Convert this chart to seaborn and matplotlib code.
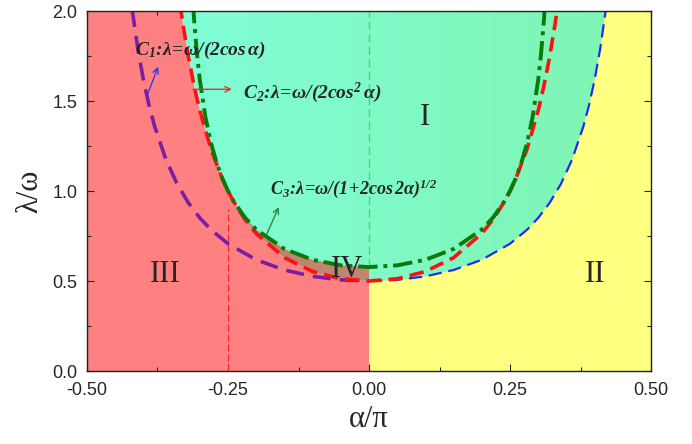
import numpy as np
import matplotlib
matplotlib.use('Agg')
import matplotlib.pyplot as plt
from matplotlib.patches import Polygon
from matplotlib.ticker import MultipleLocator
import seaborn as sns

# C1: lambda = omega/(2cos a)  (left half purple, right half blue)
c1_left_x = [-0.42, -0.41, -0.40, -0.39, -0.38, -0.36, -0.34, -0.32, -0.30, -0.28,
             -0.25, -0.20, -0.15, -0.10, -0.05, 0.0]
c1_left_y = [2.0105, 1.7922, 1.6180, 1.4761, 1.3583, 1.1743, 1.0379, 0.9331, 0.8507, 0.7844,
             0.7071, 0.6180, 0.5612, 0.5257, 0.5062, 0.5]
c1_right_x = [0.0, 0.05, 0.10, 0.15, 0.20, 0.25, 0.28, 0.30, 0.32, 0.34,
              0.36, 0.38, 0.39, 0.40, 0.41, 0.42]
c1_right_y = [0.5, 0.5062, 0.5257, 0.5612, 0.6180, 0.7071, 0.7844, 0.8507, 0.9331, 1.0379,
              1.1743, 1.3583, 1.4761, 1.6180, 1.7922, 2.0105]

# C2: lambda = omega/(2cos^2 a)
c2_x = [-0.335, -0.33, -0.32, -0.31, -0.30, -0.28, -0.26, -0.25, -0.24, -0.22, -0.20,
        -0.15, -0.10, -0.05, 0.0, 0.05, 0.10, 0.15, 0.20, 0.22, 0.24, 0.25, 0.26,
        0.28, 0.30, 0.31, 0.32, 0.33, 0.335]
c2_y = [2.0368, 1.9296, 1.7415, 1.5826, 1.4472, 1.2306, 1.0670, 1.0, 0.9409, 0.8422, 0.7639,
        0.6298, 0.5528, 0.5125, 0.5, 0.5125, 0.5528, 0.6298, 0.7639, 0.8422, 0.9409, 1.0, 1.0670,
        1.2306, 1.4472, 1.5826, 1.7415, 1.9296, 2.0368]

# C3: lambda = omega/(1+2cos2a)^(1/2)
c3_x = [-0.312, -0.31, -0.305, -0.30, -0.29, -0.28, -0.27, -0.26, -0.25, -0.24, -0.22, -0.20,
        -0.15, -0.10, -0.05, 0.0, 0.05, 0.10, 0.15, 0.20, 0.22, 0.24, 0.25, 0.26,
        0.27, 0.28, 0.29, 0.30, 0.305, 0.31, 0.312]
c3_y = [2.0394, 1.9471, 1.7609, 1.6180, 1.4105, 1.2647, 1.1552, 1.0694, 1.0, 0.9426, 0.8529, 0.7862,
        0.6780, 0.6180, 0.5870, 0.5774, 0.5870, 0.6180, 0.6780, 0.7862, 0.8529, 0.9426, 1.0, 1.0694,
        1.1552, 1.2647, 1.4105, 1.6180, 1.7609, 1.9471, 2.0394]

sns.set_style('ticks')
plt.rcParams['font.family'] = ['Liberation Sans', 'DejaVu Sans']
plt.rcParams['mathtext.fontset'] = 'custom'
plt.rcParams['mathtext.rm'] = 'Liberation Serif:italic:bold'
plt.rcParams['mathtext.it'] = 'Liberation Serif:italic:bold'
plt.rcParams['mathtext.bf'] = 'Liberation Serif:italic:bold'

fig = plt.figure(figsize=(6.92, 4.44), dpi=100)
ax = fig.add_axes([0.1257, 0.1644, 0.8151, 0.8108])

# background regions III (left) and II (right)
ax.axvspan(-0.5, 0, color='#ff8080', lw=0, zorder=0)
ax.axvspan(0, 0.5, color='#ffff80', lw=0, zorder=0)

# region I: gradient cyan -> green, clipped above C2 (left) and C1 (right)
t = np.linspace(0, 1, 256)
grad = np.zeros((2, 256, 3))
grad[..., 0] = 0.5
grad[..., 1] = 1.0 - 0.04 * t
grad[..., 2] = 0.87 - 0.18 * t
im = ax.imshow(grad, extent=[-0.5, 0.5, 0, 2.0], aspect='auto', interpolation='bicubic', zorder=1)
left_idx = c2_x.index(0.0)
verts = list(zip(c2_x[:left_idx + 1], c2_y[:left_idx + 1])) + list(zip(c1_right_x, c1_right_y))
verts += [(0.42, 2.2), (-0.335, 2.2)]
clip = Polygon(verts, closed=True, transform=ax.transData)
im.set_clip_path(clip)

# region IV between C2 and C3 for -0.25 <= a <= 0
i0, i1 = c2_x.index(-0.25), c2_x.index(0.0)
j0, j1 = c3_x.index(-0.25), c3_x.index(0.0)
iv_x = c3_x[j0:j1 + 1] + c2_x[i0:i1 + 1][::-1]
iv_y = c3_y[j0:j1 + 1] + c2_y[i0:i1 + 1][::-1]
ax.fill(iv_x, iv_y, color='#c08470', lw=0, zorder=2)

# guide lines
ax.plot([-0.25, -0.25], [0, 0.9], color='#ff2020', lw=0.8, ls=(0, (6, 3)), zorder=3)
ax.plot([0, 0], [0.5774, 2.0], color='#40e060', lw=1.0, ls=(0, (6, 3)), zorder=3)

# curves
sns.lineplot(x=c1_left_x, y=c1_left_y, ax=ax, color='#7a1fa2', lw=2.6,
             linestyle=(0, (5, 2.5)), sort=False, zorder=4)
sns.lineplot(x=c1_right_x, y=c1_right_y, ax=ax, color='#1f2fe8', lw=1.6,
             linestyle=(0, (6, 3)), sort=False, zorder=4)
sns.lineplot(x=c2_x, y=c2_y, ax=ax, color='#ff1010', lw=2.6,
             linestyle=(0, (4, 2)), sort=False, zorder=5)
sns.lineplot(x=c3_x, y=c3_y, ax=ax, color='#0a7a0a', lw=2.8,
             linestyle=(0, (5, 1.5, 1, 1.5)), sort=False, zorder=6)

# annotations
ax.annotate('', xy=(-0.372, 1.705), xytext=(-0.394, 1.526),
            arrowprops=dict(arrowstyle='->', color='#3a3ae0', lw=1.0), zorder=7)
ax.text(-0.415, 1.78, r'$C_1\!:\!\lambda\!=\!\omega/(2\cos\alpha)$', fontsize=14, va='center', zorder=7)
ax.annotate('', xy=(-0.238, 1.565), xytext=(-0.317, 1.565),
            arrowprops=dict(arrowstyle='->', color='#e83030', lw=1.0), zorder=7)
ax.text(-0.223, 1.545, r'$C_2\!:\!\lambda\!=\!\omega/(2\cos^2\alpha)$', fontsize=14, va='center', zorder=7)
ax.annotate('', xy=(-0.158, 0.925), xytext=(-0.184, 0.741),
            arrowprops=dict(arrowstyle='->', color='#2a8a4a', lw=1.0), zorder=7)
ax.text(-0.176, 1.01, r'$C_3\!:\!\lambda\!=\!\omega/(1\!+\!2\cos2\alpha)^{1/2}$', fontsize=13, va='center', zorder=7)

serif = ['Liberation Serif', 'DejaVu Serif']
ax.text(0.099, 1.41, 'I', fontsize=22, family=serif, ha='center', va='center', zorder=7)
ax.text(0.40, 0.535, 'II', fontsize=22, family=serif, ha='center', va='center', zorder=7)
ax.text(-0.362, 0.535, 'III', fontsize=22, family=serif, ha='center', va='center', zorder=7)
ax.text(-0.039, 0.563, 'IV', fontsize=22, family=serif, ha='center', va='center', zorder=7)

ax.set_xlim(-0.5, 0.5)
ax.set_ylim(0, 2.0)
ax.set_xticks([-0.5, -0.25, 0, 0.25, 0.5])
ax.set_xticklabels(['-0.50', '-0.25', '0.00', '0.25', '0.50'])
ax.set_yticks([0, 0.5, 1.0, 1.5, 2.0])
ax.set_yticklabels(['0.0', '0.5', '1.0', '1.5', '2.0'])
ax.xaxis.set_minor_locator(MultipleLocator(0.125))
ax.yaxis.set_minor_locator(MultipleLocator(0.25))
ax.tick_params(which='both', direction='in', top=True, right=True, labelsize=13, width=0.8)
ax.tick_params(which='major', length=5)
ax.tick_params(which='minor', length=3)
ax.tick_params(axis='x', which='major', pad=8)
ax.tick_params(axis='y', which='major', pad=7)
for s in ax.spines.values():
    s.set_linewidth(1.0)
    s.set_color('#222222')
    s.set_zorder(10)

ax.set_xlabel('α/π', fontsize=22, family=serif, labelpad=4)
ax.set_ylabel('λ/ω', fontsize=22, family=serif, labelpad=6)

fig.savefig('out.png', dpi=100)
